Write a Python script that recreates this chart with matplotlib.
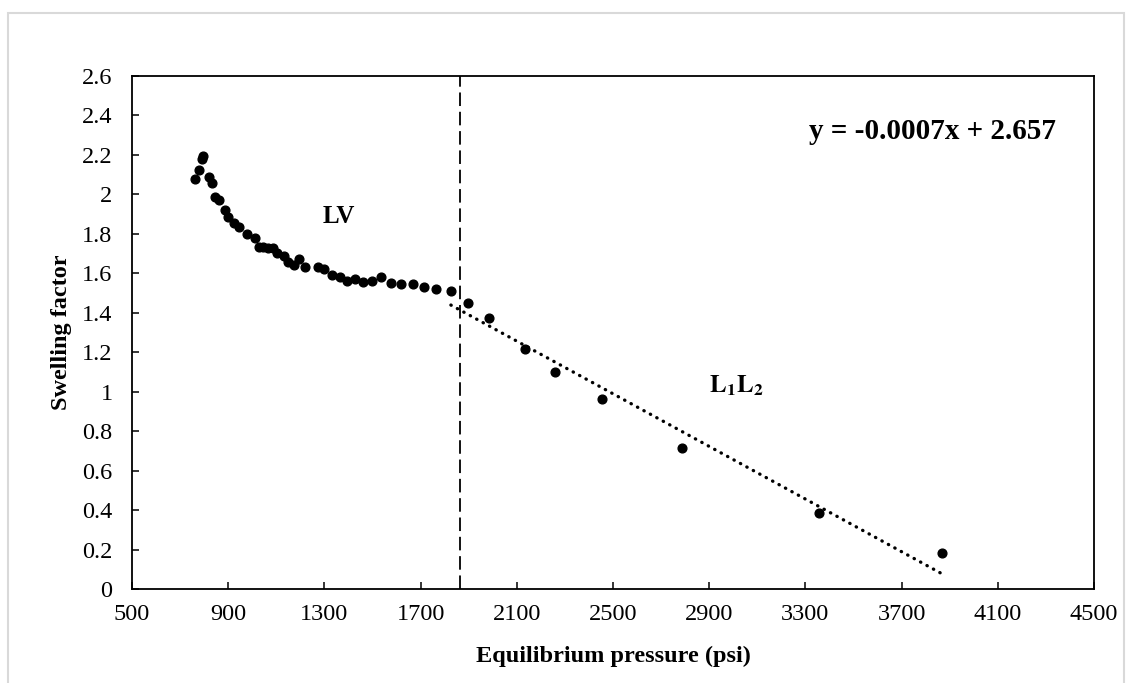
import matplotlib
matplotlib.use("Agg")
import matplotlib.pyplot as plt
from matplotlib.ticker import FuncFormatter
from matplotlib.patches import Rectangle
import numpy as np

# LV region (two-phase liquid-vapour)
lv_p = [762, 780, 790, 796, 821, 833, 846, 862, 888, 899, 924, 944, 977, 1013,
        1027, 1046, 1067, 1085, 1104, 1132, 1150, 1174, 1196, 1219, 1275, 1298,
        1330, 1365, 1393, 1427, 1462, 1497, 1534, 1576, 1617, 1667, 1714, 1764]
lv_sf = [2.077, 2.124, 2.178, 2.196, 2.090, 2.059, 1.985, 1.972, 1.921, 1.884,
         1.854, 1.836, 1.799, 1.779, 1.735, 1.732, 1.730, 1.727, 1.701, 1.688,
         1.657, 1.642, 1.673, 1.630, 1.630, 1.620, 1.593, 1.580, 1.563, 1.573,
         1.558, 1.560, 1.580, 1.552, 1.546, 1.544, 1.532, 1.522]

# L1L2 region (with linear trendline)
ll_p = [1826, 1896, 1986, 2134, 2259, 2456, 2786, 3357, 3869]
ll_sf = [1.512, 1.451, 1.374, 1.215, 1.101, 0.963, 0.716, 0.385, 0.181]

slope = -0.000667
intercept = 2.657
boundary = 1865

xticks = [500, 900, 1300, 1700, 2100, 2500, 2900, 3300, 3700, 4100, 4500]
yticks = [0, 0.2, 0.4, 0.6, 0.8, 1, 1.2, 1.4, 1.6, 1.8, 2, 2.2, 2.4, 2.6]

plt.rcParams['font.family'] = ['Liberation Serif', 'DejaVu Serif']
plt.rcParams['mathtext.fontset'] = 'stix'

fig = plt.figure(figsize=(11.32, 6.83), dpi=100)
ax = fig.add_axes([132/1132, 1-589/683, (1094-132)/1132, (589-76)/683])

# light grey chart-area border
fig.patches.append(Rectangle((8/1132, -0.05), (1124-8)/1132, 1.05-13/683,
                             transform=fig.transFigure, fill=False,
                             edgecolor='#d9d9d9', lw=1.5))

ax.plot(lv_p, lv_sf, 'o', color='black', ms=6.3, ls='none')
ax.plot(ll_p, ll_sf, 'o', color='black', ms=6.3, ls='none')

tx = np.array([ll_p[0], ll_p[-1]])
ax.plot(tx, slope*tx + intercept, color='black', lw=2.4,
        ls=(0, (0.1, 2.1)), dash_capstyle='round')

ax.axvline(boundary, color='black', lw=1.3, dashes=(7.5, 3.2))

ax.set_xlim(500, 4500)
ax.set_ylim(0, 2.6)
ax.set_xticks(xticks)
ax.set_yticks(yticks)
ax.yaxis.set_major_formatter(FuncFormatter(lambda v, p: '%g' % round(v, 1)))
ax.tick_params(direction='in', length=5, width=1.1, labelsize=17.5)
ax.tick_params(axis='x', pad=11)
ax.tick_params(axis='y', pad=14)
for s in ax.spines.values():
    s.set_linewidth(1.3)

ax.set_xlabel('Equilibrium pressure (psi)', fontsize=17.5, fontweight='bold')
ax.set_ylabel('Swelling factor', fontsize=17.5, fontweight='bold')
ax.xaxis.set_label_coords(0.5, -0.11)
ax.yaxis.set_label_coords(-0.062, 0.5)

ax.text(3315, 2.318, 'y = -0.0007x + 2.657', fontsize=21, fontweight='bold',
        ha='left', va='center')
ax.text(1358, 1.887, 'LV', fontsize=18, fontweight='bold', ha='center', va='center')
ax.text(3014, 1.029, r'$\mathbf{L_1L_2}$', fontsize=18, ha='center', va='center')

fig.savefig('out.png', dpi=100)
